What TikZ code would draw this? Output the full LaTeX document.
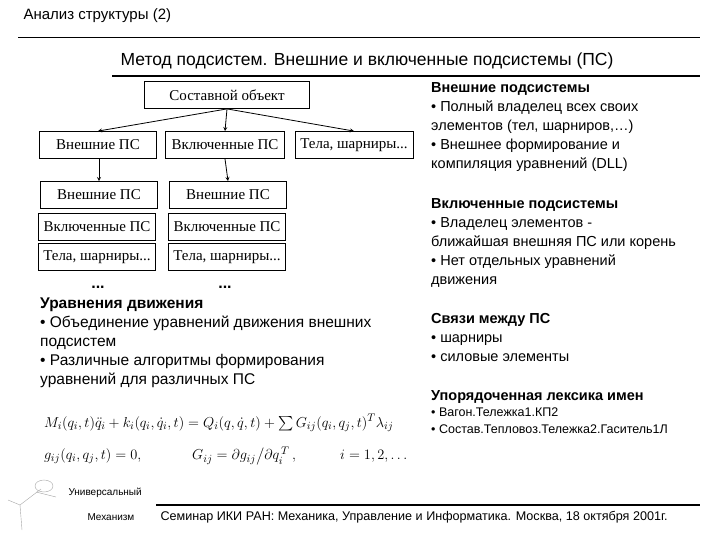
\documentclass[tikz,border=0pt]{standalone}
\usepackage{fontspec}
\setmainfont{Liberation Sans}
\newfontfamily\serifru{Liberation Serif}
\usepackage{amsmath}
\begin{document}
\begin{tikzpicture}[x=1pt,y=-1pt,
  bx/.style={draw,thick,font=\serifru\fontsize{15}{17}\selectfont,inner sep=1pt,minimum height=27pt},
  ar/.style={-stealth,thick},
  txt/.style={anchor=north west,align=left,font=\fontsize{14.5}{19}\selectfont,inner sep=0pt},
  fm/.style={anchor=west,inner sep=0pt,font=\fontsize{15.5}{17}\selectfont}]
\useasboundingbox (0,0) rectangle (720,540);
\node[anchor=west,font=\fontsize{15}{17}\selectfont] (hdr) at (20,16) {Анализ структуры (2)};
\draw[thick] (18,37) -- (700,37);
\node[font=\fontsize{17.5}{20}\selectfont] (sub) at (367,61) {Метод подсистем. Внешние и включенные подсистемы (ПС)};
\draw[very thick] (112,76) -- (700,76);
% tree
\node[bx,minimum width=165pt] (root) at (227,95) {Составной объект};
\node[bx,minimum width=117pt] (a1) at (98,145) {Внешние ПС};
\node[bx,minimum width=119pt] (b1) at (225,145) {Включенные ПС};
\node[bx,minimum width=118pt] (c1) at (354,145) {Тела, шарниры...};
\node[bx,minimum width=117pt] (a2) at (99,195) {Внешние ПС};
\node[bx,minimum width=117pt] (a3) at (97,227) {Включенные ПС};
\node[bx,minimum width=117pt] (a4) at (97,257) {Тела, шарниры...};
\node[bx,minimum width=117pt] (b2) at (228,195) {Внешние ПС};
\node[bx,minimum width=117pt] (b3) at (227,227) {Включенные ПС};
\node[bx,minimum width=117pt] (b4) at (227,257) {Тела, шарниры...};
\node[font=\bfseries\fontsize{16}{18}\selectfont] (d1) at (98,287) {...};
\node[font=\bfseries\fontsize{16}{18}\selectfont] (d2) at (225,287) {...};
\coordinate (rb) at (root.south);
\draw[ar] (rb) -- (a1.north);
\draw[ar] (rb) -- (b1.north);
\draw[ar] (rb) -- (c1.north);
\draw[ar] (a1.south -| a2.north) -- (a2.north);
\draw[ar] (b1.south) -- (b2.north);
% right column
\node[txt] (r1) at (431,82) {\textbf{Внешние подсистемы}\\• Полный владелец всех своих\\элементов (тел, шарниров,\dots)\\• Внешнее формирование и\\компиляция уравнений (DLL)};
\node[txt] (r2) at (431,198) {\textbf{Включенные подсистемы}\\• Владелец элементов -\\ближайшая внешняя ПС или корень\\• Нет отдельных уравнений\\движения};
\node[txt] (r3) at (431,313) {\textbf{Связи между ПС}\\• шарниры\\• силовые элементы};
\node[txt] (r4) at (431,390) {\textbf{Упорядоченная лексика имен}};
\node[txt,font=\fontsize{12.5}{17}\selectfont] (r5) at (431,408) {• Вагон.Тележка1.КП2\\• Состав.Тепловоз.Тележка2.Гаситель1Л};
% left text
\node[txt,font=\fontsize{15.5}{19}\selectfont] (l1) at (40,298) {\textbf{Уравнения движения}\\• Объединение уравнений движения внешних\\подсистем\\• Различные алгоритмы формирования\\уравнений для различных ПС};
\node[fm] (f1) at (44,423) {$M_i(q_i,t)\ddot q_i+k_i(q_i,\dot q_i,t)=Q_i(q,\dot q,t)+\sum G_{ij}(q_i,q_j,t)^T\lambda_{ij}$};
\node[fm] (f2) at (44,456) {$g_{ij}(q_i,q_j,t)=0,$};
\node[fm] (f3) at (192,456) {$G_{ij}=\partial g_{ij}\big/\partial q_i^{\,T}\,,$};
\node[fm] (f4) at (340,456) {$i=1,2,\dots$};
% logo
\draw[gray!70] (44,486) ellipse (9 and 6);
\draw[gray!70] (41,489) -- (20,505) -- (8,500) (20,505) -- (22,530) (36,492) -- (56,497);
\node[anchor=west,font=\fontsize{10}{12}\selectfont] (lg1) at (65,493) {Универсальный};
\node[anchor=west,font=\fontsize{10}{12}\selectfont] (lg2) at (84,517) {Механизм};
% footer
\draw[very thick] (156,505) -- (700,505);
\node[anchor=west,font=\fontsize{12.6}{14}\selectfont] (ft) at (157,517) {Семинар ИКИ РАН: Механика, Управление и Информатика. Москва, 18 октября 2001г.};
\end{tikzpicture}
\end{document}
